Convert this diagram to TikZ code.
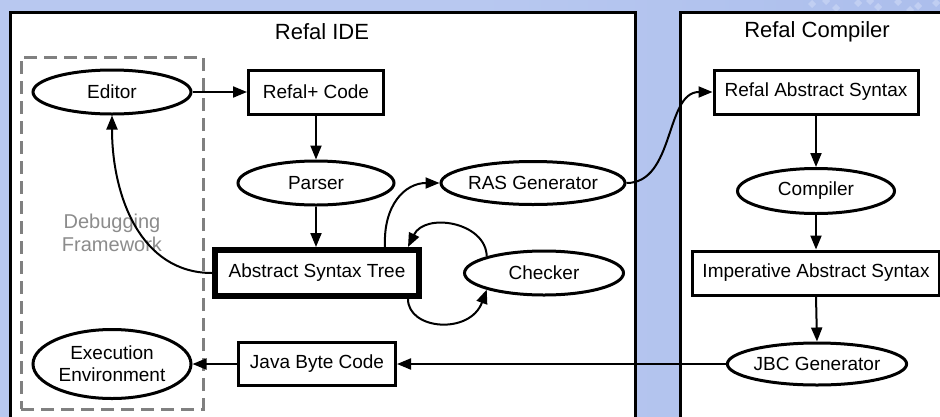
\documentclass[tikz,border=0pt]{standalone}
\usepackage{fontspec}
\setmainfont{Liberation Sans}
\usetikzlibrary{shapes.geometric,arrows.meta}
\definecolor{bgblue}{HTML}{B8C8F0}
\definecolor{bgdeep}{HTML}{ACBEEC}
\definecolor{bgtile}{HTML}{C6D3F4}
\definecolor{framegray}{HTML}{808080}
\definecolor{labelgray}{HTML}{8C8C8C}
\tikzset{
  nodefont/.style={font=\fontsize{19}{22}\selectfont},
  proc/.style={ellipse, draw, line width=3pt, fill=white, inner sep=0pt, align=center, nodefont},
  datum/.style={rectangle, draw, line width=3pt, fill=white, inner sep=0pt, minimum height=44pt, nodefont},
  flow/.style={line width=2pt, -{Triangle[length=14pt,width=11pt]}},
  panel/.style={draw, line width=3pt, fill=white},
  paneltitle/.style={font=\fontsize{22}{26}\selectfont},
  debugframe/.style={rectangle, draw=framegray, line width=3pt, dash pattern=on 13pt off 7pt, inner sep=0pt},
  tile/.style={fill=bgtile, opacity=0.8},
}
\begin{document}
\begin{tikzpicture}[x=1pt, y=-1pt]
  \useasboundingbox (0,0) rectangle (940,416);
  \clip (0,0) rectangle (940,416);
  % canvas with a soft tiled band towards the top right
  \fill[left color=bgblue, right color=bgdeep, middle color=bgblue] (0,0) rectangle (940,416);
  \foreach \tx/\ty in {812/4, 836/8, 858/3, 878/7, 898/2, 918/6, 936/3, 826/1, 870/1, 910/10} {
    \fill[tile] (\tx,\ty-4) -- (\tx+4,\ty) -- (\tx,\ty+4) -- (\tx-4,\ty) -- cycle;
  }

  % the two subsystems
  \draw[panel] (10,12) rectangle (635,440);
  \draw[panel] (680,12) rectangle (960,440);
  \node[paneltitle] (ideTitle) at (322,32) {Refal IDE};
  \node[paneltitle] (compTitle) at (817,32) {Refal Compiler};

  % debugging framework region
  \node[debugframe, minimum width=182pt, minimum height=352pt] (dbg) at (112,233) {};
  \node[font=\fontsize{20}{23}\selectfont, text=labelgray, align=center] (dbgLabel) at (112,233) {Debugging\\Framework};

  % IDE side
  \node[proc, minimum width=158pt, minimum height=44pt] (editor) at (112,92) {Editor};
  \node[datum, minimum width=135pt] (refalcode) at (316,92) {Refal+ Code};
  \node[proc, minimum width=156pt, minimum height=44pt] (parser) at (316,183) {Parser};
  \node[proc, minimum width=184pt, minimum height=43pt] (ras) at (533,183) {RAS Generator};
  \node[datum, line width=6pt, minimum width=204pt, minimum height=46pt] (ast) at (317,273) {Abstract Syntax Tree};
  \node[proc, minimum width=159pt, minimum height=44pt] (checker) at (544,273) {Checker};
  \node[datum, minimum width=157pt, minimum height=43pt] (java) at (317,364) {Java Byte Code};
  \node[proc, minimum width=158pt, minimum height=69pt] (exec) at (112,364) {Execution\\Environment};

  % compiler side
  \node[datum, minimum width=204pt] (refalabs) at (816,92) {Refal Abstract Syntax};
  \node[proc, minimum width=157pt, minimum height=45pt] (compiler) at (816,191) {Compiler};
  \node[datum, minimum width=247pt] (imper) at (816,273) {Imperative Abstract Syntax};
  \node[proc, minimum width=179pt, minimum height=42pt] (jbc) at (817,364) {JBC Generator};

  % data flow
  \draw[flow] (editor.east) -- (refalcode.west);
  \draw[flow] (refalcode.south) -- (parser.north);
  \draw[flow] (parser.south) -- (parser.south |- ast.north);
  \draw[flow] (ast.west) .. controls (140,273) and (112,195) .. (editor.south);
  \draw[flow] ([xshift=68pt]ast.north) .. controls (383,205) and (405,183) .. (ras.west);
  \draw[flow] (checker.north west) .. controls (486,222) and (425,212) .. ([xshift=-14pt]ast.north east);
  \draw[flow] ([xshift=-14pt]ast.south east) .. controls (408,330) and (470,335) .. (checker.south west);
  \draw[flow] (ras.east) .. controls (675,183) and (665,92) .. (refalabs.west);
  \draw[flow] (refalabs.south) -- (compiler.north);
  \draw[flow] (compiler.south) -- (imper.north);
  \draw[flow] (imper.south) -- (jbc.north);
  \draw[flow] (jbc.west) -- (java.east);
  \draw[flow] (java.west) -- (exec.east);
\end{tikzpicture}
\end{document}
